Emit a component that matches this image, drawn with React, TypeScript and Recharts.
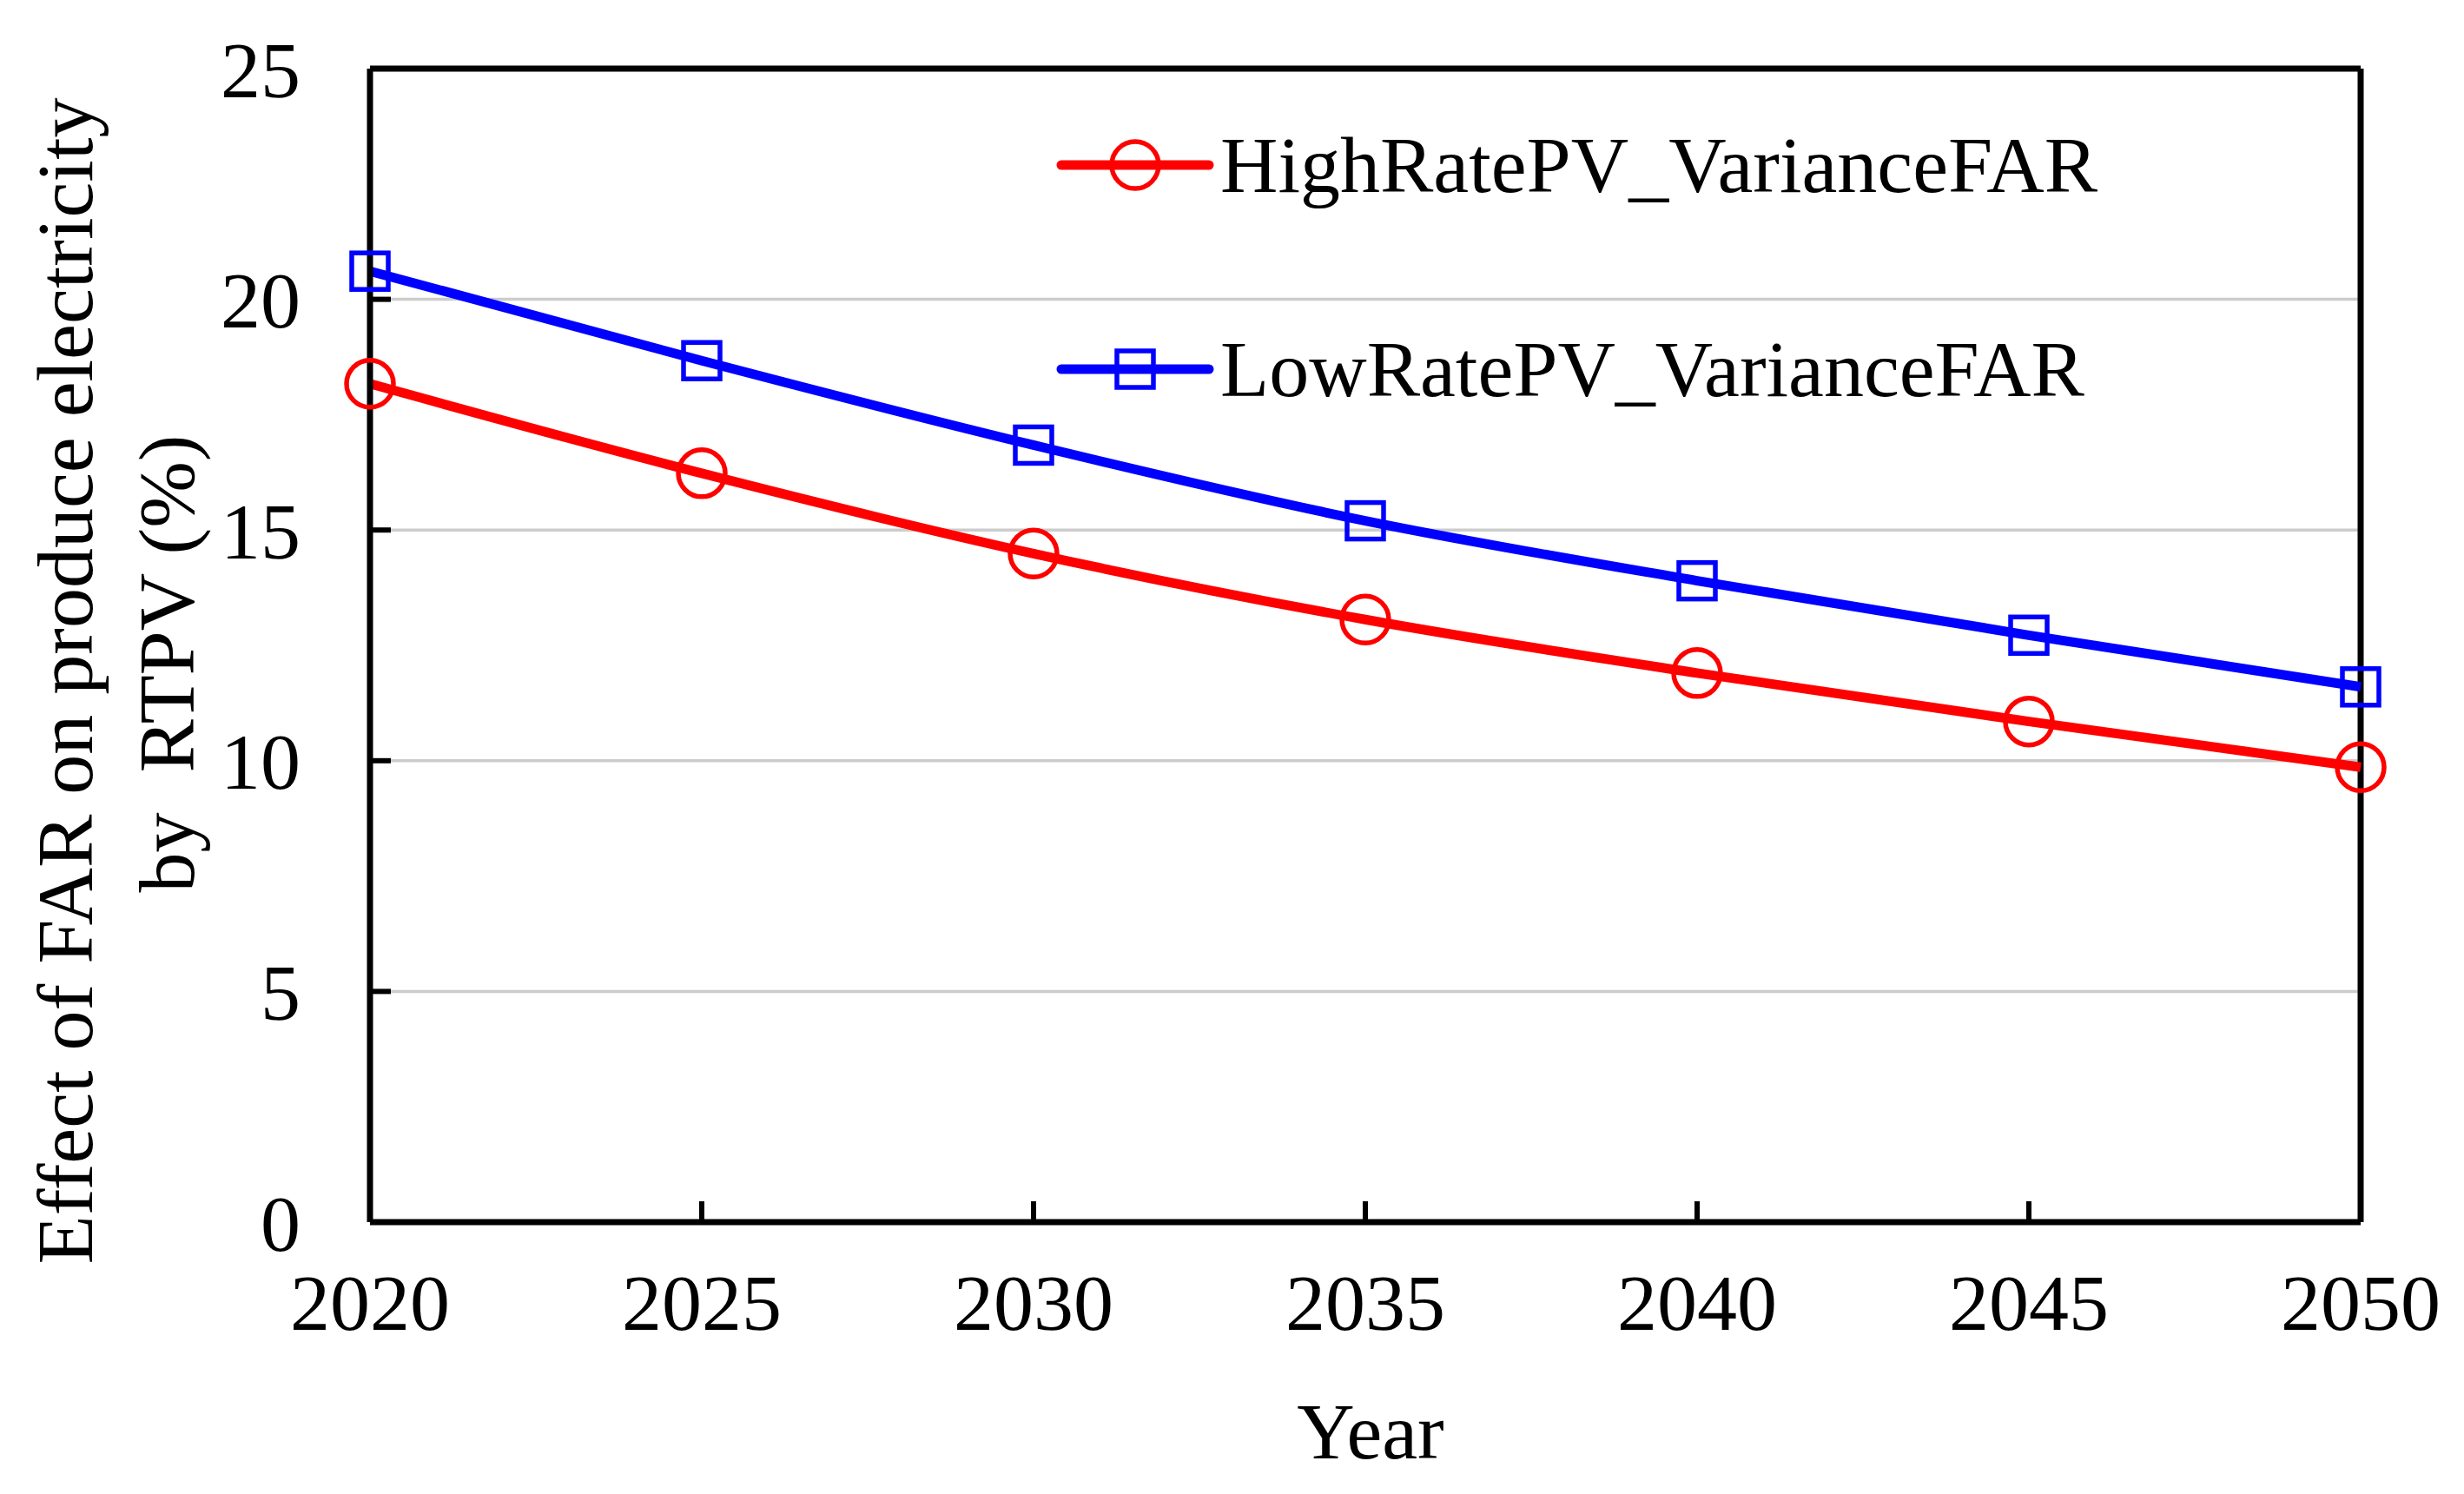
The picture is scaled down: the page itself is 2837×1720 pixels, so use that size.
import { LineChart, Line, XAxis, YAxis, CartesianGrid, ReferenceLine } from 'recharts';

const years = [2020, 2025, 2030, 2035, 2040, 2045, 2050];
const highRatePV = [18.17, 16.23, 14.49, 13.06, 11.9, 10.85, 9.86];
const lowRatePV = [20.61, 18.67, 16.84, 15.2, 13.9, 12.72, 11.6];
const yTicks = [0, 5, 10, 15, 20, 25];
const seriesNames = ['HighRatePV_VarianceFAR', 'LowRatePV_VarianceFAR'];
const yLabelLines = ['Effect of FAR on produce electricity', 'by  RTPV (%)'];
const xLabel = 'Year';

const data = years.map((year, i) => ({ year, high: highRatePV[i], low: lowRatePV[i] }));

const FONT = '"Liberation Serif", "Times New Roman", serif';
const RED = '#ff0000';
const BLUE = '#0000ff';

const CircleDot = (props: any) => {
  const { cx, cy, index } = props;
  if (cx == null || cy == null) return null;
  return <circle key={`c-${index}`} cx={cx} cy={cy} r={27} fill="none" stroke={RED} strokeWidth={5.5} />;
};

const SquareDot = (props: any) => {
  const { cx, cy, index } = props;
  if (cx == null || cy == null) return null;
  return (
    <rect key={`s-${index}`} x={cx - 21} y={cy - 21} width={42} height={42} fill="none" stroke={BLUE} strokeWidth={5.5} />
  );
};

export default function App() {
  return (
    <div style={{ position: 'relative', width: 2837, height: 1720, background: '#fff' }}>
      <style>{`body{margin:0}`}</style>
      <LineChart width={2837} height={1720} data={data} margin={{ top: 79, right: 119, bottom: 0, left: 0 }}>
        <CartesianGrid horizontal vertical={false} stroke="#cccccc" strokeWidth={3.5} />
        <XAxis
          dataKey="year"
          type="number"
          domain={[2020, 2050]}
          ticks={years}
          height={313}
          axisLine={{ stroke: '#000', strokeWidth: 7 }}
          tickLine={{ stroke: '#000', strokeWidth: 6 }}
          tickSize={-24}
          tickMargin={83}
          tick={{ fill: '#000', fontSize: 92, fontFamily: FONT }}
        />
        <YAxis
          type="number"
          domain={[0, 25]}
          ticks={yTicks}
          width={426}
          axisLine={{ stroke: '#000', strokeWidth: 7 }}
          tickLine={{ stroke: '#000', strokeWidth: 6 }}
          tickSize={-24}
          tickMargin={104}
          tick={{ fill: '#000', fontSize: 92, fontFamily: FONT }}
        />
        <ReferenceLine y={25} stroke="#000" strokeWidth={7} />
        <ReferenceLine x={2050} stroke="#000" strokeWidth={7} />
        <Line
          dataKey="low"
          type="monotone"
          stroke={BLUE}
          strokeWidth={11}
          dot={SquareDot}
          activeDot={false}
          isAnimationActive={false}
        />
        <Line
          dataKey="high"
          type="monotone"
          stroke={RED}
          strokeWidth={11}
          dot={CircleDot}
          activeDot={false}
          isAnimationActive={false}
        />
      </LineChart>
      <svg
        width={2837}
        height={1720}
        style={{ position: 'absolute', left: 0, top: 0, pointerEvents: 'none' }}
        fontFamily={FONT}
      >
        {/* legend */}
        <line x1={1222} y1={190} x2={1392} y2={190} stroke={RED} strokeWidth={11} strokeLinecap="round" />
        <circle cx={1307} cy={190} r={27} fill="none" stroke={RED} strokeWidth={5.5} />
        <text x={1405} y={190} fontSize={92} dominantBaseline="central" fill="#000">
          {seriesNames[0]}
        </text>
        <line x1={1222} y1={425} x2={1392} y2={425} stroke={BLUE} strokeWidth={11} strokeLinecap="round" />
        <rect x={1286} y={404} width={42} height={42} fill="none" stroke={BLUE} strokeWidth={5.5} />
        <text x={1405} y={425} fontSize={92} dominantBaseline="central" fill="#000">
          {seriesNames[1]}
        </text>
        {/* axis titles */}
        <text
          x={75}
          y={784}
          fontSize={92}
          textAnchor="middle"
          dominantBaseline="central"
          transform="rotate(-90 75 784)"
          fill="#000"
        >
          {yLabelLines[0]}
        </text>
        <text
          x={192}
          y={764}
          fontSize={92}
          textAnchor="middle"
          dominantBaseline="central"
          transform="rotate(-90 192 764)"
          fill="#000"
          style={{ whiteSpace: 'pre' }}
        >
          {yLabelLines[1]}
        </text>
        <text x={1578} y={1648} fontSize={92} textAnchor="middle" dominantBaseline="central" fill="#000">
          {xLabel}
        </text>
      </svg>
    </div>
  );
}
